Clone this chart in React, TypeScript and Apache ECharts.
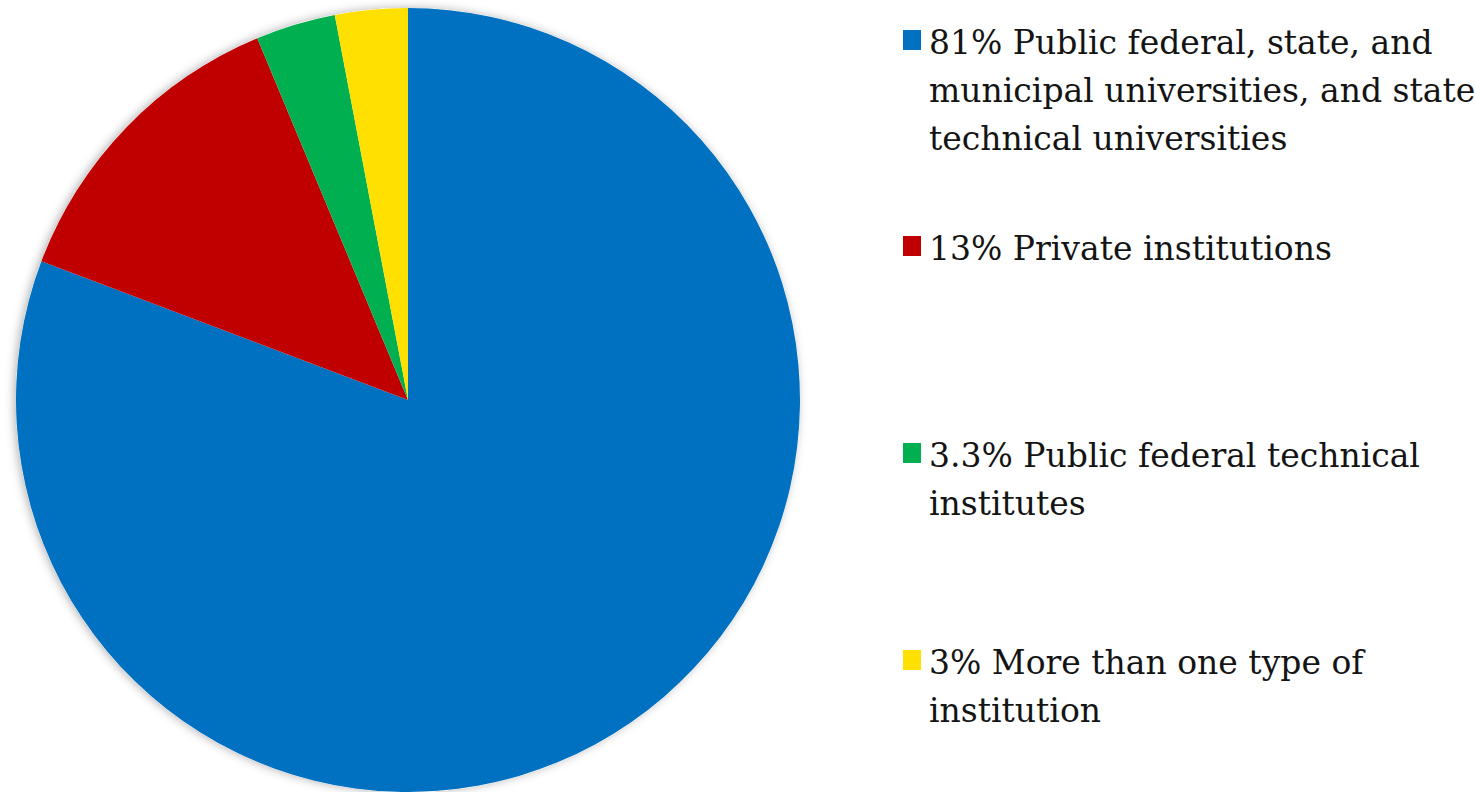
import React, { useEffect, useRef } from "react";
import * as echarts from "echarts";

const categories = [
  "Public federal, state, and\nmunicipal universities, and state\ntechnical universities",
  "Private institutions",
  "Public federal technical\ninstitutes",
  "More than one type of\ninstitution",
];
const values = [81, 13, 3.3, 3];
const colors = ["#0070C0", "#C00000", "#00B050", "#FFE000"];

// layout
const legendTops = [18, 224, 431, 638];
const PIE_CX = 408;
const PIE_CY = 400;
const PIE_R = 392;
const FONT = "'DejaVu Serif', 'Liberation Serif', 'Times New Roman', Times, serif";

export default function App() {
  const ref = useRef<HTMLDivElement>(null);
  useEffect(() => {
    if (!ref.current) return;
    const chart = echarts.init(ref.current, undefined, { renderer: "svg" });
    const graphic: any[] = [
      {
        type: "circle",
        z: -1,
        silent: true,
        shape: { cx: PIE_CX, cy: PIE_CY, r: PIE_R },
        style: {
          fill: "#ffffff",
          shadowBlur: 10,
          shadowColor: "rgba(0,0,0,0.3)",
          shadowOffsetX: -2,
          shadowOffsetY: 0,
        },
      },
    ];
    categories.forEach((c, i) => {
      graphic.push({
        type: "rect",
        shape: { x: 903, y: legendTops[i] + 12, width: 18, height: 20 },
        style: { fill: colors[i] },
      });
    });
    const titles = categories.map((c, i) => ({
      text: `${values[i]}% ${c}`,
      left: 929,
      top: legendTops[i],
      padding: 0,
      textStyle: {
        fontFamily: FONT,
        fontSize: 33,
        fontWeight: "normal",
        lineHeight: 48,
        color: "#141414",
      },
    }));
    chart.setOption({
      animation: false,
      backgroundColor: "#ffffff",
      textStyle: { fontFamily: FONT },
      title: titles,
      graphic,
      series: [
        {
          type: "pie",
          center: [PIE_CX, PIE_CY],
          radius: PIE_R,
          startAngle: 90,
          clockwise: true,
          label: { show: false },
          labelLine: { show: false },
          emphasis: { disabled: true },
          silent: true,
          itemStyle: { borderWidth: 0 },
          data: values.map((v, i) => ({
            value: v,
            name: categories[i],
            itemStyle: { color: colors[i] },
          })),
        },
      ],
    });
    return () => chart.dispose();
  }, []);
  return (
    <div
      ref={ref}
      style={{ position: "fixed", left: 0, top: 0, width: 1475, height: 792 }}
    />
  );
}
